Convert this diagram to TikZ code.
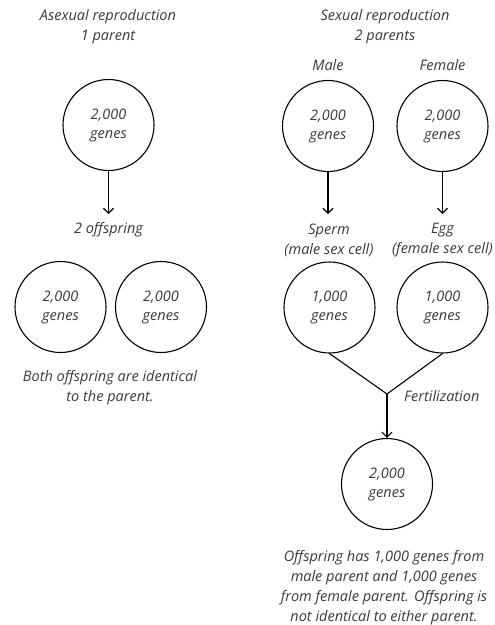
\documentclass[tikz,border=0pt]{standalone}
\usepackage{fontspec}
\setmainfont{Open Sans}
\usetikzlibrary{arrows.meta}
\definecolor{txt}{HTML}{3A3A3A}
\begin{document}
\begin{tikzpicture}[x=1pt,y=-1pt,
  cell/.style={circle,draw=black,line width=1.1pt,minimum size=91pt,inner sep=0pt,align=center,text=txt,font=\itshape\fontsize{14.5}{19}\selectfont},
  lbl/.style={align=center,text=txt,font=\itshape\fontsize{14.5}{20}\selectfont,inner sep=0pt},
  arr/.style={line width=1.1pt,-{Straight Barb[length=5pt,width=10pt]}},
  ln/.style={line width=1.1pt}]
\useasboundingbox (0,0) rectangle (495,625);
% left
\node[lbl] (t1) at (108,27) {Asexual reproduction\\1 parent};
\node[cell] (p) at (108.5,125) {2,000\\genes};
\coordinate (pe) at (108.5,214);
\node[lbl] (o) at (108.5,230) {2 offspring};
\node[cell] (c1) at (60.5,307) {2,000\\genes};
\node[cell] (c2) at (161,307) {2,000\\genes};
\node[lbl] (b) at (110,388) {Both offspring are identical\\to the parent.};
\draw[arr] (p.south) -- (pe);
% right
\node[lbl] (t2) at (385,27) {Sexual reproduction\\2 parents};
\node[lbl] (m) at (328,65) {Male};
\node[lbl] (f) at (442.5,65) {Female};
\node[cell] (mp) at (328,126) {2,000\\genes};
\node[cell] (fp) at (442.5,126) {2,000\\genes};
\coordinate (me) at (328,214);
\coordinate (fe) at (442.5,214);
\draw[arr] (mp.south) -- (me);
\draw[arr] (fp.south) -- (fe);
\node[lbl] (sp) at (329,240) {Sperm\\(male sex cell)};
\node[lbl] (eg) at (442.5,240) {Egg\\(female sex cell)};
\node[cell] (s) at (329.5,307.5) {1,000\\genes};
\node[cell] (e) at (442.5,307.5) {1,000\\genes};
\coordinate (j) at (387,394);
\draw[ln] (s.south) -- (j) -- (e.south);
\node[cell] (z) at (387,484) {2,000\\genes};
\draw[arr] (j) -- (z.north);
\node[lbl,anchor=west] (fz) at (404,396) {Fertilization};
\node[lbl] (d) at (384,588) {Offspring has 1,000 genes from\\male parent and 1,000 genes\\from female parent. Offspring is\\not identical to either parent.};
\end{tikzpicture}
\end{document}
